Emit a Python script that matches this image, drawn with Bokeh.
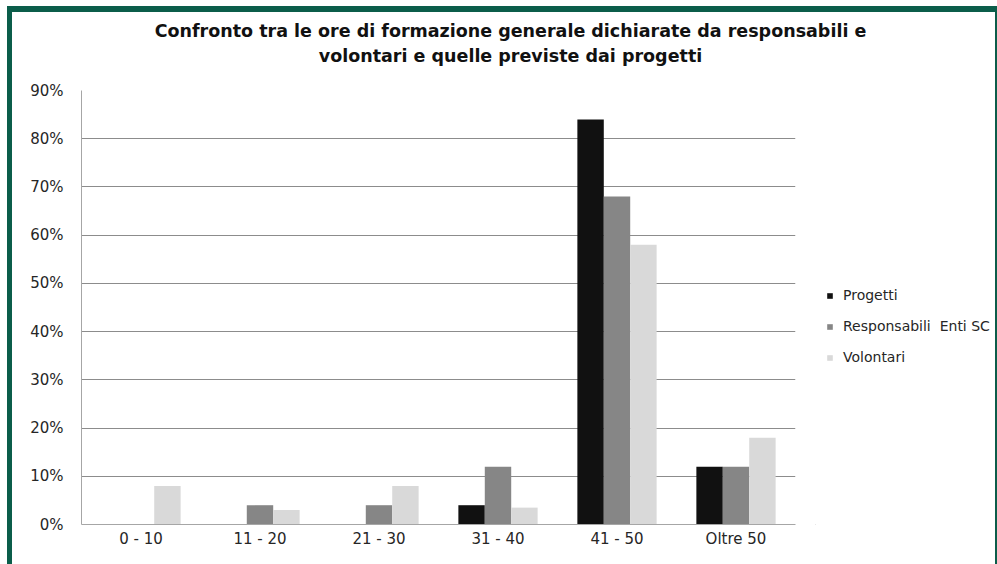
from bokeh.plotting import figure
from bokeh.layouts import column, row
from bokeh.models import (Range1d, FixedTicker, NumeralTickFormatter, Label, Legend,
                          LegendItem, ColumnDataSource)
from bokeh.transform import dodge
from bokeh.embed import file_html
from bokeh.resources import INLINE

categories = ["0 - 10", "11 - 20", "21 - 30", "31 - 40", "41 - 50", "Oltre 50"]
progetti = [0.0, 0.0, 0.0, 0.04, 0.84, 0.12]
responsabili = [0.0, 0.04, 0.04, 0.12, 0.68, 0.12]
volontari = [0.08, 0.03, 0.08, 0.035, 0.58, 0.18]
series_names = ["Progetti", "Responsabili  Enti SC", "Volontari"]
y_ticks = [0.0, 0.1, 0.2, 0.3, 0.4, 0.5, 0.6, 0.7, 0.8, 0.9]
title_lines = ["Confronto tra le ore di formazione generale dichiarate da responsabili e",
               "volontari e quelle previste dai progetti"]

FONT = "DejaVu Sans"
TXT = "#262626"
GREEN = "#0b5d4a"
colors = ["#111111", "#868686", "#d9d9d9"]

W, H = 997, 564
TITLE_H = 70
MAIN_W = 815


def bare(fig):
    fig.outline_line_color = None
    fig.background_fill_color = None
    fig.border_fill_color = None
    fig.xgrid.visible = False
    fig.ygrid.visible = False
    return fig


# ---- title strip ----
tfig = figure(width=W, height=TITLE_H, x_range=Range1d(0, W), y_range=Range1d(TITLE_H, 0),
              min_border=0, x_axis_location=None, y_axis_location=None,
              toolbar_location=None, output_backend="svg")
bare(tfig)
for t, yy in zip(title_lines, [30, 55]):
    tfig.add_layout(Label(x=510, y=yy, text=t, text_align="center", text_baseline="middle",
                          text_font=FONT, text_font_size="17.5px", text_font_style="bold",
                          text_color="#111111"))

# ---- main chart ----
src = ColumnDataSource(dict(cat=categories, p=progetti, r=responsabili, v=volontari))
p = figure(x_range=categories, y_range=Range1d(0, 0.9), width=MAIN_W, height=H - TITLE_H,
           min_border_left=81, min_border_right=MAIN_W - 795, min_border_top=90 - TITLE_H,
           min_border_bottom=H - 524, toolbar_location=None, output_backend="svg")
p.outline_line_color = None
p.background_fill_color = None
p.border_fill_color = None

fields = ["p", "r", "v"]
offsets = [-0.222, 0.0, 0.222]
for f, c, o in zip(fields, colors, offsets):
    p.vbar(x=dodge("cat", o, range=p.x_range), top=f, width=0.222, source=src,
           fill_color=c, line_color=None)

p.xgrid.grid_line_color = None
p.ygrid.grid_line_color = "#8c8c8c"
p.ygrid.ticker = FixedTicker(ticks=y_ticks)
p.yaxis.ticker = FixedTicker(ticks=y_ticks)
p.yaxis.formatter = NumeralTickFormatter(format="0%")
for ax in (p.xaxis[0], p.yaxis[0]):
    ax.axis_line_color = "#a6a6a6"
    ax.major_tick_line_color = None
    ax.minor_tick_line_color = None
    ax.major_tick_out = 0
    ax.major_tick_in = 0
    ax.major_label_text_font = FONT
    ax.major_label_text_font_size = "15px"
    ax.major_label_text_color = TXT
p.yaxis.major_label_standoff = 18
p.xaxis.major_label_standoff = 5

# ---- legend strip ----
LW = W - MAIN_W
lfig = figure(width=LW, height=H - TITLE_H, x_range=Range1d(0, 1), y_range=Range1d(0, 1),
              min_border=0, x_axis_location=None, y_axis_location=None,
              toolbar_location=None, output_backend="svg")
bare(lfig)
# legend swatch carriers: one bar each, placed outside the visible range
lrs = [lfig.vbar(x=[-5], top=[-5], width=0.5, fill_color=c, line_color=None) for c in colors]
legend = Legend(items=[LegendItem(label=n, renderers=[r]) for n, r in zip(series_names, lrs)],
                location=(826 - MAIN_W, 157), orientation="vertical",
                glyph_width=7, glyph_height=7, label_standoff=10,
                label_height=20, spacing=11, padding=0, margin=0,
                label_text_font=FONT, label_text_font_size="14px", label_text_color=TXT,
                border_line_color=None, background_fill_alpha=0)
lfig.add_layout(legend, "center")

layout = column(tfig, row(p, lfig))
layout.styles = {
    "background-color": "white",
    "background-image": ", ".join(["linear-gradient(%s, %s)" % (GREEN, GREEN)] * 3),
    "background-size": "990px 6px, 5px 558px, 2px 558px",
    "background-position": "7px 6px, 7px 6px, 995px 6px",
    "background-repeat": "no-repeat",
}

open("out.html", "w").write(file_html(layout, INLINE))
